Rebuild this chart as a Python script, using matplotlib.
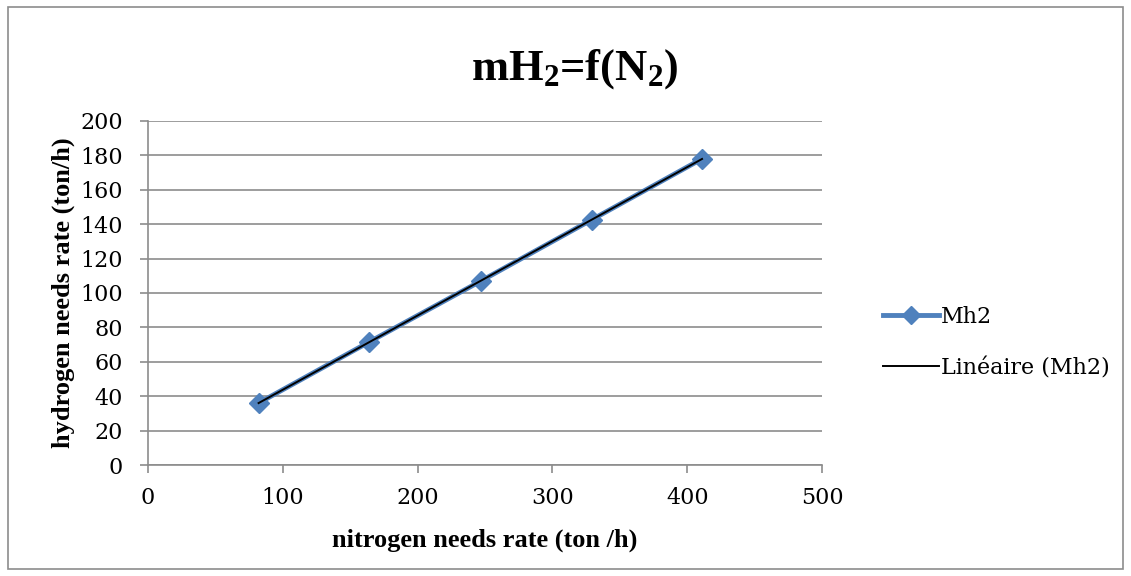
import matplotlib.pyplot as plt
import numpy as np
from matplotlib.patches import Rectangle
from matplotlib.lines import Line2D

plt.rcParams['mathtext.fontset'] = 'custom'
plt.rcParams['mathtext.rm'] = 'Liberation Serif:bold'
plt.rcParams['mathtext.bf'] = 'Liberation Serif:bold'
plt.rcParams['mathtext.default'] = 'bf'

# data
nitrogen = [82, 164, 247, 329, 411]
hydrogen = [36, 71.5, 107, 142.5, 178]

fig = plt.figure(figsize=(11.31, 5.76), dpi=100)
fig.patches.append(Rectangle((0.007, 0.012), 0.986, 0.976, transform=fig.transFigure,
                             fill=False, edgecolor='#8c8c8c', linewidth=1.2))

ax = fig.add_axes([0.1309, 0.1927, 0.5959, 0.5973])

ax.plot(nitrogen, hydrogen, color='#4f81bd', linewidth=3.5, marker='D', markersize=10,
        label='Mh2', zorder=3)

# linear trendline
k, b = np.polyfit(nitrogen, hydrogen, 1)
xs = np.array([nitrogen[0], nitrogen[-1]])
ax.plot(xs, k * xs + b, color='black', linewidth=1.4, label='Linéaire (Mh2)', zorder=4)

ax.set_xlim(0, 500)
ax.set_ylim(0, 200)
ax.set_xticks(np.arange(0, 501, 100))
ax.set_yticks(np.arange(0, 201, 20))
ax.yaxis.grid(True, color='#8c8c8c', linewidth=1.2)
ax.set_axisbelow(True)
for s in ['top', 'right']:
    ax.spines[s].set_visible(False)
for s in ['left', 'bottom']:
    ax.spines[s].set_color('#8c8c8c')
    ax.spines[s].set_linewidth(1.2)
ax.tick_params(axis='both', colors='#8c8c8c', length=6, width=1.2, labelsize=16,
               labelcolor='black')
for lab in ax.get_xticklabels() + ax.get_yticklabels():
    lab.set_family('DejaVu Serif')
ax.tick_params(axis='x', pad=10)
ax.tick_params(axis='y', pad=12)

ax.set_xlabel('nitrogen needs rate (ton /h)', family='Liberation Serif', fontweight='bold',
              fontsize=19, labelpad=14)
ax.set_ylabel('hydrogen needs rate (ton/h)', family='Liberation Serif', fontweight='bold',
              fontsize=19, labelpad=4)

fig.text(0.508, 0.88, r'mH$_2$=f(N$_2$)', ha='center', va='center', fontsize=32,
         family='Liberation Serif', fontweight='bold')

handles = [Line2D([], [], color='#4f81bd', linewidth=3.5, marker='D', markersize=9),
           Line2D([], [], color='black', linewidth=1.4)]
fig.legend(handles, ['Mh2', 'Linéaire (Mh2)'], loc='center left',
           bbox_to_anchor=(0.763, 0.405), frameon=False, handlelength=2.5,
           handletextpad=0.1, labelspacing=1.3, prop={'family': 'DejaVu Serif', 'size': 16})

fig.savefig('out.png', dpi=100)
